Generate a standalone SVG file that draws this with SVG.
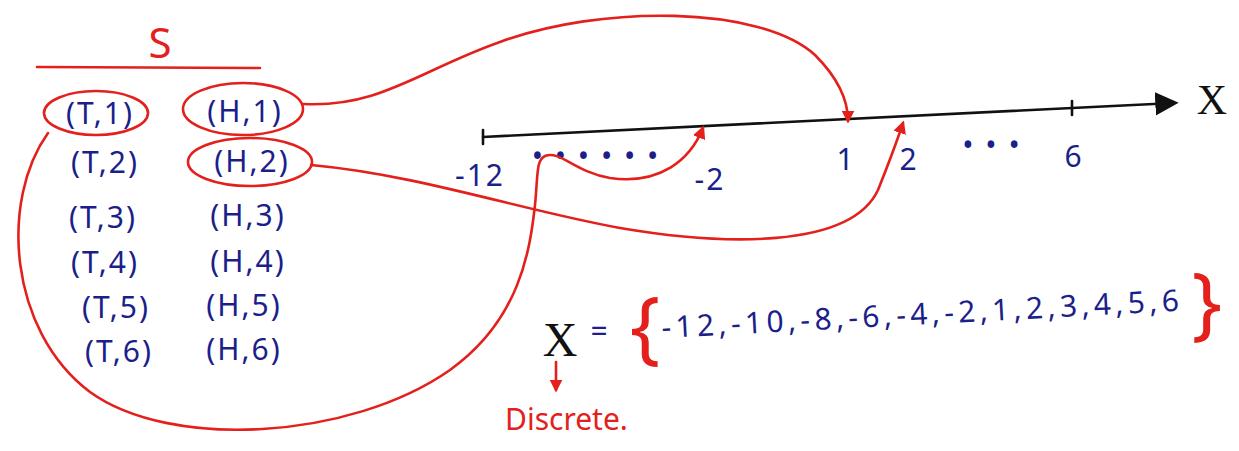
<svg xmlns="http://www.w3.org/2000/svg" width="1239" height="451" viewBox="0 0 1239 451">
<style>
.blue{fill:#1c1f8a;font-family:"Noto Sans","Liberation Sans",sans-serif;font-size:30px;letter-spacing:2px}
.red{fill:#e3201c;font-family:"Noto Sans","Liberation Sans",sans-serif}
.rl{fill:none;stroke:#e3201c;stroke-width:2.6;stroke-linecap:round}
.bl{fill:none;stroke:#111;stroke-width:2.6;stroke-linecap:round}
</style>
<defs>
<marker id="ra" viewBox="0 0 10 10" refX="8" refY="5" markerWidth="5" markerHeight="5" orient="auto"><path d="M0,0 L10,5 L0,10 z" fill="#e3201c"/></marker>
<marker id="ba" viewBox="0 0 10 10" refX="8" refY="5" markerWidth="9" markerHeight="9" orient="auto"><path d="M0,0 L10,5 L0,10 z" fill="#111"/></marker>
</defs>
<rect width="1239" height="451" fill="#fff"/>
<g id="sample-space">
<text x="160" y="58" class="red" font-size="42" text-anchor="middle">S</text>
<line x1="37" y1="67" x2="260" y2="68" class="rl" stroke-width="3"/>
</g>
<g id="T1"><ellipse cx="96" cy="113" rx="52" ry="22" class="rl"/><text x="100" y="124" class="blue" text-anchor="middle">(T,1)</text></g>
<g id="H1"><ellipse cx="243" cy="109" rx="60" ry="26" class="rl"/><text x="245" y="122" class="blue" text-anchor="middle">(H,1)</text></g>
<g id="T2"><text x="105" y="173" class="blue" text-anchor="middle">(T,2)</text></g>
<g id="H2"><ellipse cx="250" cy="162" rx="62" ry="24" class="rl"/><text x="252" y="172" class="blue" text-anchor="middle">(H,2)</text></g>
<g id="T3"><text x="103" y="228" class="blue" text-anchor="middle">(T,3)</text></g>
<g id="H3"><text x="248" y="226" class="blue" text-anchor="middle">(H,3)</text></g>
<g id="T4"><text x="105" y="273" class="blue" text-anchor="middle">(T,4)</text></g>
<g id="H4"><text x="248" y="272" class="blue" text-anchor="middle">(H,4)</text></g>
<g id="T5"><text x="116" y="318" class="blue" text-anchor="middle">(T,5)</text></g>
<g id="H5"><text x="244" y="316" class="blue" text-anchor="middle">(H,5)</text></g>
<g id="T6"><text x="119" y="362" class="blue" text-anchor="middle">(T,6)</text></g>
<g id="H6"><text x="244" y="360" class="blue" text-anchor="middle">(H,6)</text></g>
<g id="axis">
<line x1="483" y1="137" x2="1174" y2="103" class="bl" marker-end="url(#ba)"/>
<line x1="483" y1="130" x2="483" y2="144" class="bl"/>
<line x1="1072" y1="101" x2="1072" y2="115" class="bl"/>
<text x="1212" y="114" font-family="Liberation Serif,serif" font-size="42" fill="#111" text-anchor="middle">X</text>
<text x="480" y="186" class="blue" font-size="32" text-anchor="middle" letter-spacing="0">-12</text>
<text x="596" y="167" class="blue" font-size="18" text-anchor="middle" letter-spacing="6">• • • • • •</text>
<text x="710" y="190" class="blue" font-size="32" text-anchor="middle" letter-spacing="0">-2</text>
<text x="846" y="170" class="blue" font-size="32" text-anchor="middle">1</text>
<text x="909" y="170" class="blue" font-size="32" text-anchor="middle">2</text>
<text x="992" y="156" class="blue" font-size="18" text-anchor="middle" letter-spacing="8">• • •</text>
<text x="1074" y="167" class="blue" font-size="32" text-anchor="middle">6</text>
</g>
<g id="connectors">
<path d="M303,104 C380,108 420,70 500,42 C600,5 760,5 815,55 C838,78 848,100 848,121" class="rl" marker-end="url(#ra)"/>
<path d="M48,133 C0,200 8,330 90,392 C170,450 350,440 450,370 C520,320 530,250 535,205 C538,175 536,160 545,156 C560,150 575,172 610,178 C660,185 690,160 703,128" class="rl" marker-end="url(#ra)"/>
<path d="M311,165 C420,175 520,210 620,228 C720,245 850,250 878,190 C890,160 898,138 903,123" class="rl" marker-end="url(#ra)"/>
<line x1="556" y1="362" x2="556" y2="390" class="rl" marker-end="url(#ra)"/>
</g>
<g id="set">
<text x="560" y="356" font-family="Liberation Serif,serif" font-size="48" fill="#111" text-anchor="middle">X</text>
<text x="600" y="342" class="blue" font-size="32" text-anchor="middle">=</text>
<text x="645" y="354" class="red" font-size="80" text-anchor="middle">{</text>
<text x="662" y="338" class="blue" font-size="30" letter-spacing="0" textLength="520" lengthAdjust="spacing" transform="rotate(-3 662 338)">-12,-10,-8,-6,-4,-2,1,2,3,4,5,6</text>
<text x="1207" y="330" class="red" font-size="80" text-anchor="middle">}</text>
<text x="505" y="430" class="red" font-size="30">Discrete.</text>
</g>
</svg>
